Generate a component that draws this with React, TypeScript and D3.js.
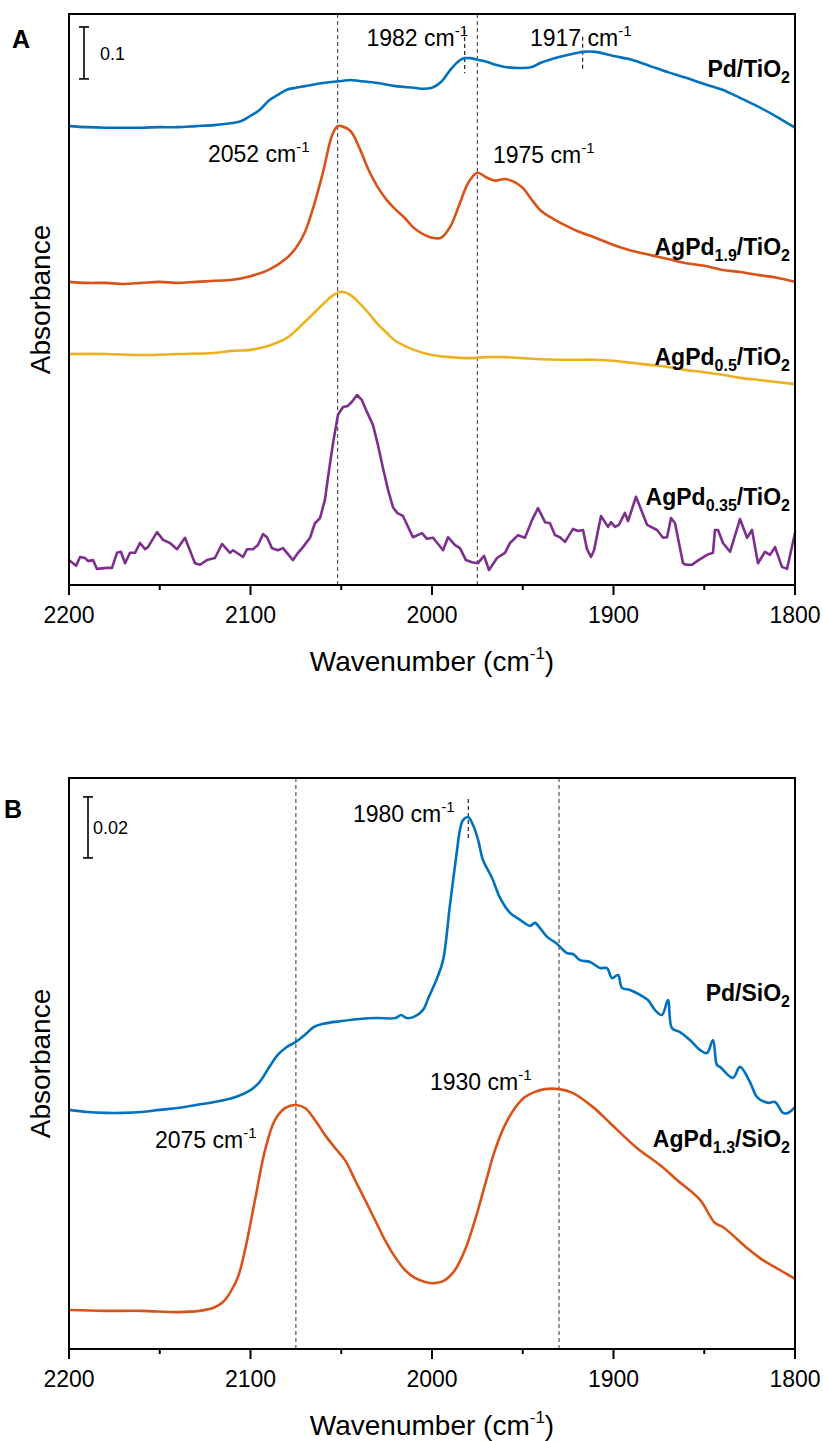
import React from 'react';
import * as d3 from 'd3';

type Pt = [number, number];

// x axis: wavenumber (cm-1), reversed
const waveDomain: [number, number] = [2200, 1800];
const majorTicks = [2200, 2100, 2000, 1900, 1800];
const minorTicks = [2150, 2050, 1950, 1850];

// ---- Panel A: CO adsorption on TiO2-supported catalysts (stacked absorbance) ----
const pdTiO2: Pt[] = [
  [2200, .884], [2190, .882], [2180, .881], [2170, .881], [2160, .881], [2150, .882], [2140, .882],
  [2130, .884], [2120, .886], [2110, .890], [2105, .894], [2100, .904], [2095, .915], [2090, .933],
  [2085, .944], [2080, .954], [2075, .958], [2070, .961], [2060, .967], [2050, .971], [2045, .973],
  [2040, .971], [2030, .967], [2020, .961], [2010, .958], [2005, .956], [2000, .958], [1995, .969],
  [1990, .992], [1985, 1.010], [1982, 1.015], [1979, 1.015], [1975, 1.012], [1970, 1.008], [1965, 1.002],
  [1960, .998], [1950, .996], [1945, .998], [1940, 1.006], [1930, 1.017], [1920, 1.025], [1917, 1.027],
  [1910, 1.027], [1900, 1.019], [1890, 1.012], [1880, 1.0], [1870, .988], [1860, .977], [1850, .965],
  [1840, .954], [1830, .938], [1820, .921], [1810, .902], [1800, .881],
];

const agPd19TiO2: Pt[] = [
  [2200, .584], [2190, .582], [2180, .582], [2170, .580], [2160, .582], [2150, .584], [2140, .582],
  [2130, .584], [2120, .586], [2110, .588], [2100, .595], [2090, .607], [2080, .630], [2075, .649],
  [2070, .680], [2065, .732], [2060, .796], [2055, .867], [2052, .884], [2050, .884], [2045, .875],
  [2040, .842], [2035, .800], [2030, .767], [2025, .742], [2020, .723], [2015, .707], [2010, .688],
  [2005, .676], [2000, .669], [1995, .669], [1990, .690], [1985, .732], [1980, .775], [1975, .794],
  [1970, .785], [1965, .779], [1960, .782], [1955, .777], [1950, .765], [1945, .742], [1940, .721],
  [1935, .709], [1930, .699], [1920, .682], [1910, .669], [1900, .655], [1890, .644], [1880, .636],
  [1870, .628], [1860, .620], [1850, .615], [1840, .607], [1830, .603], [1820, .597], [1810, .592],
  [1800, .584],
];

const agPd05TiO2: Pt[] = [
  [2200, .445], [2180, .445], [2160, .443], [2140, .445], [2120, .447], [2110, .451], [2100, .453],
  [2090, .461], [2080, .476], [2070, .507], [2065, .524], [2060, .541], [2055, .557], [2050, .565],
  [2045, .559], [2040, .543], [2035, .524], [2030, .503], [2025, .486], [2020, .470], [2010, .453],
  [2000, .443], [1990, .439], [1980, .437], [1970, .439], [1960, .439], [1950, .437], [1940, .435],
  [1930, .434], [1920, .434], [1910, .434], [1900, .432], [1890, .428], [1880, .424], [1870, .420],
  [1860, .414], [1850, .410], [1840, .405], [1830, .399], [1820, .395], [1810, .391], [1800, .387],
];

const agPd035TiO2: Pt[] = [
  [2200, .048], [2196.1, .037], [2193.9, .054], [2191.2, .052], [2189.5, .046], [2186.8, .048],
  [2184.6, .031], [2179.1, .033], [2176.3, .033], [2173.6, .062], [2171.4, .064], [2169.1, .042],
  [2166.4, .062], [2163.6, .062], [2160.9, .081], [2158.1, .069], [2156.5, .073], [2151.5, .102],
  [2148.2, .087], [2144.4, .081], [2140.5, .069], [2136.1, .091], [2130.6, .042], [2127.8, .039],
  [2124.0, .048], [2119.6, .052], [2115.7, .079], [2111.3, .062], [2109.6, .067], [2104.1, .054],
  [2101.9, .069], [2098.6, .069], [2095.9, .077], [2093.1, .098], [2090.9, .092], [2088.2, .071],
  [2084.8, .067], [2082.1, .071], [2076.6, .048], [2073.8, .062], [2071.1, .073], [2067.2, .091],
  [2064.5, .119], [2061.7, .129], [2059.0, .164], [2056.7, .222], [2054.5, .274], [2051.8, .328],
  [2049.0, .343], [2046.3, .345], [2044.1, .353], [2041.3, .366], [2038.6, .356], [2035.8, .333],
  [2032.5, .308], [2029.8, .270], [2027.0, .225], [2024.2, .183], [2021.5, .150], [2019.3, .139],
  [2016.0, .133], [2010.5, .092], [2005.5, .100], [2002.8, .089], [1999.4, .091], [1993.9, .067],
  [1991.2, .092], [1987.3, .077], [1984.6, .071], [1981.3, .048], [1978.0, .044], [1974.7, .042],
  [1971.3, .056], [1968.6, .029], [1964.2, .052], [1959.8, .062], [1957.0, .081], [1952.6, .096],
  [1948.8, .091], [1944.9, .125], [1941.6, .148], [1937.7, .121], [1935.0, .119], [1932.2, .096],
  [1929.5, .092], [1926.7, .083], [1922.3, .108], [1919.6, .104], [1916.8, .106], [1914.6, .069],
  [1912.4, .054], [1910.7, .067], [1906.9, .133], [1903.0, .112], [1901.4, .121], [1899.2, .112],
  [1897.0, .116], [1893.7, .139], [1892.0, .123], [1887.6, .170], [1881.5, .116], [1876.0, .106],
  [1872.7, .091], [1870.5, .092], [1868.3, .129], [1866.1, .119], [1861.7, .042], [1860.1, .039],
  [1856.7, .039], [1854.0, .046], [1848.5, .058], [1845.2, .062], [1844.1, .106], [1842.4, .106],
  [1839.7, .081], [1835.8, .064], [1830.3, .127], [1826.4, .091], [1823.7, .106], [1820.4, .042],
  [1816.5, .064], [1813.8, .058], [1811.0, .073], [1807.2, .035], [1804.4, .031], [1800.0, .100],
];

// ---- Panel B: CO adsorption on SiO2-supported catalysts ----
const pdSiO2: Pt[] = [
  [2200, .0784], [2190, .0777], [2180, .0774], [2170, .0774], [2160, .0777], [2150, .0784], [2140, .0790],
  [2130, .0800], [2120, .0810], [2110, .0823], [2100, .0849], [2095, .0875], [2090, .0921], [2085, .0964],
  [2080, .0990], [2075, .1007], [2070, .1030], [2065, .1056], [2060, .1066], [2050, .1075], [2040, .1082],
  [2030, .1085], [2020, .1085], [2017, .1095], [2014, .1085], [2010, .1089], [2005, .1111], [2002, .1151],
  [2000, .1177], [1997.2, .1216], [1993.9, .1275], [1990.1, .1456], [1986.2, .1636], [1984.6, .1702],
  [1982.9, .1734], [1980.2, .1744], [1977.4, .1718], [1974.6, .1669], [1971.9, .1603], [1966.9, .1544],
  [1962.5, .1479], [1957.0, .1430], [1951.5, .1407], [1946.0, .1387], [1943.3, .1397], [1940.5, .1380],
  [1936.6, .1351], [1931.7, .1331], [1925.6, .1298], [1922.3, .1295], [1918.5, .1275], [1912.9, .1269],
  [1907.4, .1249], [1903.6, .1249], [1900.8, .1216], [1897.5, .1226], [1895.3, .1184], [1890.9, .1177],
  [1885.4, .1161], [1881.0, .1144], [1877.1, .1111], [1873.3, .1095], [1870.0, .1144], [1867.8, .1052],
  [1863.4, .1039], [1857.9, .1013], [1852.3, .0980], [1848.5, .0970], [1845.2, .1013], [1843.0, .0931],
  [1841.3, .0925], [1834.2, .0889], [1830.3, .0925], [1824.8, .0875], [1820.9, .0826], [1814.9, .0807],
  [1811.0, .0810], [1806.6, .0774], [1803.9, .0774], [1800, .0793],
];

const agPd13SiO2: Pt[] = [
  [2200, .0128], [2180, .0125], [2160, .0125], [2140, .0121], [2128, .0125], [2120, .0136], [2115, .0155],
  [2111.3, .0184], [2106.9, .0236], [2103.0, .0325], [2097.5, .0489], [2092.0, .0652], [2086.5, .0751],
  [2081.0, .0790], [2075, .0800], [2070, .0790], [2064.5, .0751], [2059.0, .0702], [2053.4, .0659],
  [2048.0, .0620], [2042.4, .0554], [2036.9, .0489], [2031.4, .0423], [2025.9, .0357], [2020.4, .0302],
  [2014.9, .0259], [2009.4, .0233], [2003.9, .0220], [1998.3, .0216], [1992.8, .0226], [1987.3, .0259],
  [1981.8, .0325], [1976.3, .0423], [1970.8, .0538], [1965.3, .0652], [1959.8, .0734], [1954.3, .0790],
  [1948.8, .0826], [1943.3, .0843], [1937.7, .0852], [1930, .0852], [1922.3, .0839], [1911.3, .0793],
  [1901.9, .0741], [1887.1, .0659], [1874.4, .0603], [1865.0, .0554], [1852.3, .0489], [1844.1, .0413],
  [1839.7, .0400], [1826.4, .0331], [1819.3, .0298], [1808.3, .0259], [1800, .0230],
];

const BLUE = '#0072BD';
const ORANGE = '#D95319';
const YELLOW = '#EDB120';
const PURPLE = '#7E2F8E';
const FONT = "Arial, 'Liberation Sans', Helvetica, sans-serif";

type Part = { t: string; sub?: boolean };
type Series = { data: Pt[]; color: string; smooth: boolean; label: Part[]; labelY: number };
type Peak = { wave: number; full?: boolean; short?: [number, number]; textX: number; textY: number; anchor?: 'start' | 'end' };

const X_LEFT = 69;
const X_RIGHT = 795;

const x = d3.scaleLinear().domain(waveDomain).range([X_LEFT, X_RIGHT]);

function LabelText({ parts, xPos, yPos }: { parts: Part[]; xPos: number; yPos: number }) {
  let shift = 0;
  return (
    <text x={xPos} y={yPos} textAnchor="end" fontFamily={FONT} fontWeight="bold" fontSize={23} fill="#000">
      {parts.map((p, i) => {
        const target = p.sub ? 6 : 0;
        const dy = target - shift;
        shift = target;
        return (
          <tspan key={i} dy={dy} fontSize={p.sub ? 16 : 23}>{p.t}</tspan>
        );
      })}
    </text>
  );
}

function WaveLabel({ value, xPos, yPos, anchor = 'start' }: { value: number; xPos: number; yPos: number; anchor?: string }) {
  return (
    <text x={xPos} y={yPos} fontFamily={FONT} fontSize={23} textAnchor={anchor} fill="#000">
      <tspan>{`${value} cm`}</tspan>
      <tspan dy={-10} fontSize={15}>-1</tspan>
    </text>
  );
}

function Panel({
  top, bottom, yMax, series, peaks, letter, scaleBar, scaleText,
}: {
  top: number; bottom: number; yMax: number; series: Series[]; peaks: Peak[]; letter: string;
  scaleBar: [number, number]; scaleText: string;
}) {
  const y = d3.scaleLinear().domain([0, yMax]).range([bottom, top]);
  const lineSmooth = d3.line<Pt>().x(d => x(d[0])).y(d => y(d[1])).curve(d3.curveCatmullRom.alpha(0.5));
  const lineRaw = d3.line<Pt>().x(d => x(d[0])).y(d => y(d[1]));
  const barX = letter === 'A' ? 84 : 88;
  const midY = (top + bottom) / 2;
  return (
    <g>
      {/* peak guide lines */}
      {peaks.filter(p => p.full).map((p, i) => (
        <line key={`f${i}`} x1={x(p.wave)} x2={x(p.wave)} y1={top} y2={bottom}
          stroke="#555" strokeWidth={1.2} strokeDasharray="4,3" />
      ))}
      {peaks.filter(p => p.short).map((p, i) => (
        <line key={`s${i}`} x1={x(p.wave)} x2={x(p.wave)} y1={y(p.short![0])} y2={y(p.short![1])}
          stroke="#222" strokeWidth={1.2} strokeDasharray="4,3" />
      ))}
      {/* spectra */}
      {series.map((s, i) => (
        <path key={i} d={(s.smooth ? lineSmooth : lineRaw)(s.data) || ''} fill="none"
          stroke={s.color} strokeWidth={2.6} strokeLinejoin="round" />
      ))}
      {series.map((s, i) => (
        <LabelText key={`l${i}`} parts={s.label} xPos={790} yPos={s.labelY} />
      ))}
      {peaks.map((p, i) => (
        <WaveLabel key={`w${i}`} value={p.wave} xPos={p.textX} yPos={p.textY} anchor={p.anchor} />
      ))}
      {/* frame */}
      <rect x={X_LEFT} y={top} width={X_RIGHT - X_LEFT} height={bottom - top} fill="none" stroke="#000" strokeWidth={2} />
      {/* bottom axis ticks */}
      {majorTicks.map(t => (
        <g key={t}>
          <line x1={x(t)} x2={x(t)} y1={bottom} y2={bottom + 10} stroke="#000" strokeWidth={2} />
          <text x={x(t)} y={bottom + 38} textAnchor="middle" fontFamily={FONT} fontSize={23}>{t}</text>
        </g>
      ))}
      {minorTicks.map(t => (
        <line key={t} x1={x(t)} x2={x(t)} y1={bottom} y2={bottom + 5} stroke="#000" strokeWidth={2} />
      ))}
      {/* axis titles */}
      <text x={(X_LEFT + X_RIGHT) / 2} y={bottom + 86} textAnchor="middle" fontFamily={FONT} fontSize={28}>
        <tspan>Wavenumber (cm</tspan>
        <tspan dy={-12} fontSize={17}>-1</tspan>
        <tspan dy={12}>)</tspan>
      </text>
      <text transform={`translate(50,${midY}) rotate(-90)`} textAnchor="middle" fontFamily={FONT} fontSize={28}>
        Absorbance
      </text>
      {/* panel letter */}
      <text x={letter === 'A' ? 12 : 4} y={top + (letter === 'A' ? 34 : 40)} fontFamily={FONT} fontWeight="bold" fontSize={25}>
        {letter}
      </text>
      {/* absorbance scale bar */}
      <g stroke="#000" strokeWidth={1.6}>
        <line x1={barX} x2={barX} y1={y(scaleBar[0])} y2={y(scaleBar[1])} />
        <line x1={barX - 5} x2={barX + 5} y1={y(scaleBar[0])} y2={y(scaleBar[0])} />
        <line x1={barX - 5} x2={barX + 5} y1={y(scaleBar[1])} y2={y(scaleBar[1])} />
      </g>
      <text x={barX + (letter === 'A' ? 16 : 5)} y={(y(scaleBar[0]) + y(scaleBar[1])) / 2 + 7}
        fontFamily={FONT} fontSize={18}>{scaleText}</text>
    </g>
  );
}

const panelASeries: Series[] = [
  { data: pdTiO2, color: BLUE, smooth: true, label: [{ t: 'Pd/TiO' }, { t: '2', sub: true }], labelY: 77 },
  { data: agPd19TiO2, color: ORANGE, smooth: true, label: [{ t: 'AgPd' }, { t: '1.9', sub: true }, { t: '/TiO' }, { t: '2', sub: true }], labelY: 255 },
  { data: agPd05TiO2, color: YELLOW, smooth: true, label: [{ t: 'AgPd' }, { t: '0.5', sub: true }, { t: '/TiO' }, { t: '2', sub: true }], labelY: 365 },
  { data: agPd035TiO2, color: PURPLE, smooth: false, label: [{ t: 'AgPd' }, { t: '0.35', sub: true }, { t: '/TiO' }, { t: '2', sub: true }], labelY: 505 },
];

const panelAPeaks: Peak[] = [
  { wave: 2052, full: true, textX: 208, textY: 162 },
  { wave: 1975, full: true, textX: 493, textY: 163 },
  { wave: 1982, short: [1.069, 0.986], textX: 468, textY: 46, anchor: 'end' },
  { wave: 1917, short: [1.056, 0.990], textX: 530, textY: 46 },
];

const panelBSeries: Series[] = [
  { data: pdSiO2, color: BLUE, smooth: true, label: [{ t: 'Pd/SiO' }, { t: '2', sub: true }], labelY: 1001 },
  { data: agPd13SiO2, color: ORANGE, smooth: true, label: [{ t: 'AgPd' }, { t: '1.3', sub: true }, { t: '/SiO' }, { t: '2', sub: true }], labelY: 1147 },
];

const panelBPeaks: Peak[] = [
  { wave: 2075, full: true, textX: 155, textY: 1148 },
  { wave: 1930, full: true, textX: 430, textY: 1090 },
  { wave: 1980, short: [0.1803, 0.1669], textX: 353, textY: 822 },
];

export default function App() {
  return (
    <svg width={823} height={1441} style={{ position: 'absolute', left: 0, top: 0, background: '#fff' }}>
      <rect width={823} height={1441} fill="#fff" />
      <Panel top={14} bottom={585} yMax={1.1} series={panelASeries} peaks={panelAPeaks} letter="A"
        scaleBar={[1.075, 0.975]} scaleText="0.1" />
      <Panel top={778} bottom={1349} yMax={0.1872} series={panelBSeries} peaks={panelBPeaks} letter="B"
        scaleBar={[0.181, 0.161]} scaleText="0.02" />
    </svg>
  );
}
